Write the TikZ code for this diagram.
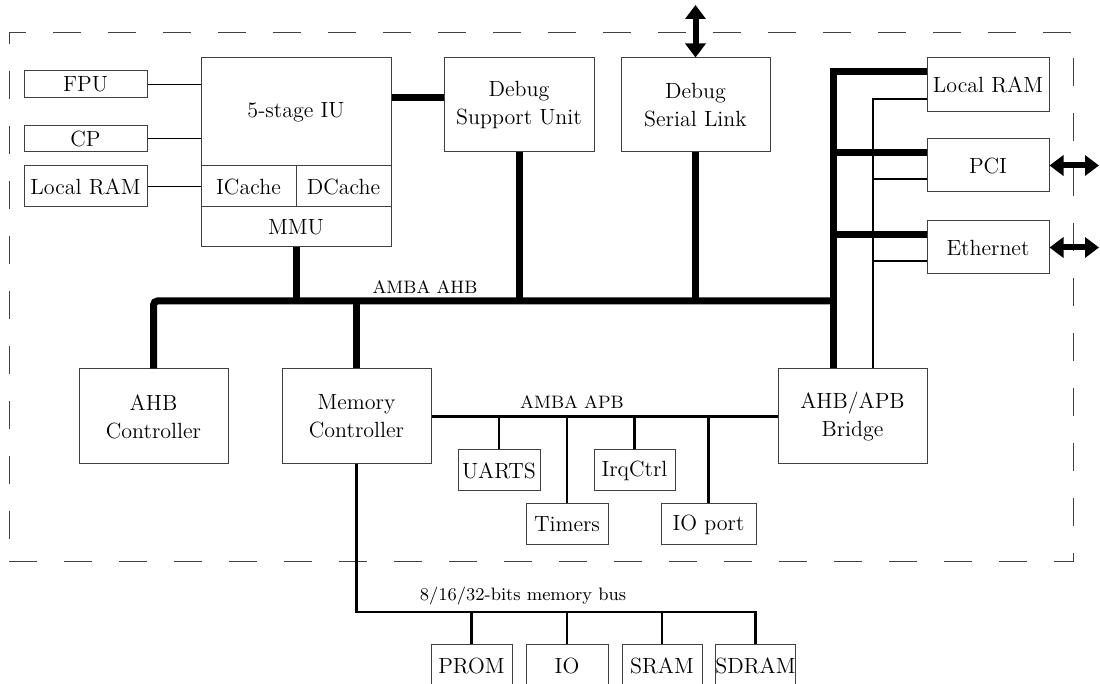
\documentclass[tikz,border=0pt]{standalone}
\usetikzlibrary{arrows.meta}

\begin{document}
\begin{tikzpicture}[x=0.5pt, y=-0.5pt,
  blk/.style={draw=black!75, line width=0.5pt, inner sep=0pt, align=center, font=\fontsize{11}{14}\selectfont},
  lbl/.style={font=\fontsize{9}{11}\selectfont},
  wire/.style={line width=0.5pt},
  ahb/.style={line width=3.5pt},
  apb/.style={line width=1.2pt},
  port/.style={line width=3pt, <->, >={Triangle[width=10pt,length=7pt]}}]

  \useasboundingbox (0,0) rectangle (1100,684);
  \clip (0,0) rectangle (1100,684);

  % Chip outline
  \node[draw=black!75, line width=0.5pt, dash pattern=on 14pt off 13.5pt, minimum width=532pt, minimum height=264.5pt, inner sep=0pt] (chip) at (541,297.5) {};

  % Define nodes
  \node[blk, minimum width=95pt, minimum height=54pt] (iu) at (296,112) {5-stage IU};
  \node[blk, minimum width=47.5pt, minimum height=20.5pt] (icache) at (248.5,186.5) {ICache};
  \node[blk, minimum width=47.5pt, minimum height=20.5pt] (dcache) at (343.5,186.5) {DCache};
  \node[blk, minimum width=95pt, minimum height=20pt] (mmu) at (296,227) {MMU};

  \node[blk, minimum width=61.5pt, minimum height=13.5pt] (fpu) at (85.5,84.5) {FPU};
  \node[blk, minimum width=61.5pt, minimum height=13pt] (cp) at (85.5,139) {CP};
  \node[blk, minimum width=61.5pt, minimum height=20.5pt] (lram) at (85.5,186.5) {Local RAM};

  \node[blk, minimum width=75pt, minimum height=47pt] (dsu) at (519,105) {Debug\\Support Unit};
  \node[blk, minimum width=74.5pt, minimum height=47pt] (dsl) at (695.5,105) {Debug\\Serial Link};

  \node[blk, minimum width=61pt, minimum height=27pt] (ram) at (988,85) {Local RAM};
  \node[blk, minimum width=61pt, minimum height=26.5pt] (pci) at (988,165.5) {PCI};
  \node[blk, minimum width=61pt, minimum height=26.5pt] (eth) at (988,247.5) {Ethernet};

  \node[blk, minimum width=74.5pt, minimum height=47.5pt] (ahbc) at (153.5,416.5) {AHB\\Controller};
  \node[blk, minimum width=74.5pt, minimum height=47.5pt] (memc) at (356.5,416.5) {Memory\\Controller};
  \node[blk, minimum width=74.5pt, minimum height=47.5pt] (bridge) at (852.5,416.5) {AHB/APB\\Bridge};

  \node[blk, minimum width=41pt, minimum height=20.5pt] (uarts) at (499,470.5) {UARTS};
  \node[blk, minimum width=41pt, minimum height=20.5pt] (timers) at (567,524.5) {Timers};
  \node[blk, minimum width=40.5pt, minimum height=20.5pt] (irq) at (634.5,470.5) {IrqCtrl};
  \node[blk, minimum width=47.5pt, minimum height=20.5pt] (ioport) at (708.5,524.5) {IO port};

  \node[blk, minimum width=40.5pt, minimum height=21pt] (prom) at (471.5,666) {PROM};
  \node[blk, minimum width=41pt, minimum height=21pt] (io) at (567,666) {IO};
  \node[blk, minimum width=40pt, minimum height=21pt] (sram) at (662,666) {SRAM};
  \node[blk, minimum width=39.5pt, minimum height=21pt] (sdram) at (755.5,666) {SDRAM};

  \node[lbl] (ahblbl) at (425,287) {AMBA AHB};
  \node[lbl] (apblbl) at (572,402) {AMBA APB};
  \node[lbl] (mbuslbl) at (523,596) {8/16/32-bits memory bus};

  \coordinate (ahbR) at (833,301);
  \coordinate (mbusR) at (755.5,612);
  \coordinate (apbup) at ([xshift=10.25pt]bridge.north);
  \coordinate (dslout) at (695.5,5);
  \coordinate (pciout) at (1099,165.5);
  \coordinate (ethout) at (1099,247.5);

  % Connect the nodes
  \draw[wire] (fpu) -- (fpu -| iu.west);
  \draw[wire] (cp) -- (cp -| iu.west);
  \draw[wire] (lram) -- (lram -| icache.west);

  \draw[ahb, rounded corners=2pt] (ahbc) |- (ahbR);
  \draw[ahb] ([yshift=6.5pt]ram.west) -| (ahbR |- bridge.north);
  \draw[ahb] ([yshift=7pt]iu.east) -- ([yshift=7pt]iu.east -| dsu.west);
  \draw[ahb] (mmu) -- (mmu |- ahbR);
  \draw[ahb] (dsu) -- (dsu |- ahbR);
  \draw[ahb] (dsl) -- (dsl |- ahbR);
  \draw[ahb] (memc) -- (memc |- ahbR);
  \draw[ahb] ([yshift=6.5pt]pci.west) -- ([yshift=6.5pt]pci.west -| ahbR);
  \draw[ahb] ([yshift=6.5pt]eth.west) -- ([yshift=6.5pt]eth.west -| ahbR);

  \draw[apb] (apbup) |- ([yshift=-7pt]ram.west);
  \draw[apb] ([yshift=-6.75pt]pci.west) -- ([yshift=-6.75pt]pci.west -| apbup);
  \draw[apb] ([yshift=-6.75pt]eth.west) -- ([yshift=-6.75pt]eth.west -| apbup);

  \draw[port] (dsl) -- (dslout);
  \draw[port] (pci) -- (pciout);
  \draw[port] (eth) -- (ethout);

  \draw[apb, line width=1.5pt] (memc) -- (bridge);
  \draw[apb] (uarts) -- (uarts |- memc);
  \draw[apb] (timers) -- (timers |- memc);
  \draw[apb] (irq) -- (irq |- memc);
  \draw[apb] (ioport) -- (ioport |- memc);

  \draw[apb] (memc) |- (mbusR) -- (sdram);
  \draw[apb] (prom) -- (prom |- mbusR);
  \draw[apb] (io) -- (io |- mbusR);
  \draw[apb] (sram) -- (sram |- mbusR);

\end{tikzpicture}
\end{document}
